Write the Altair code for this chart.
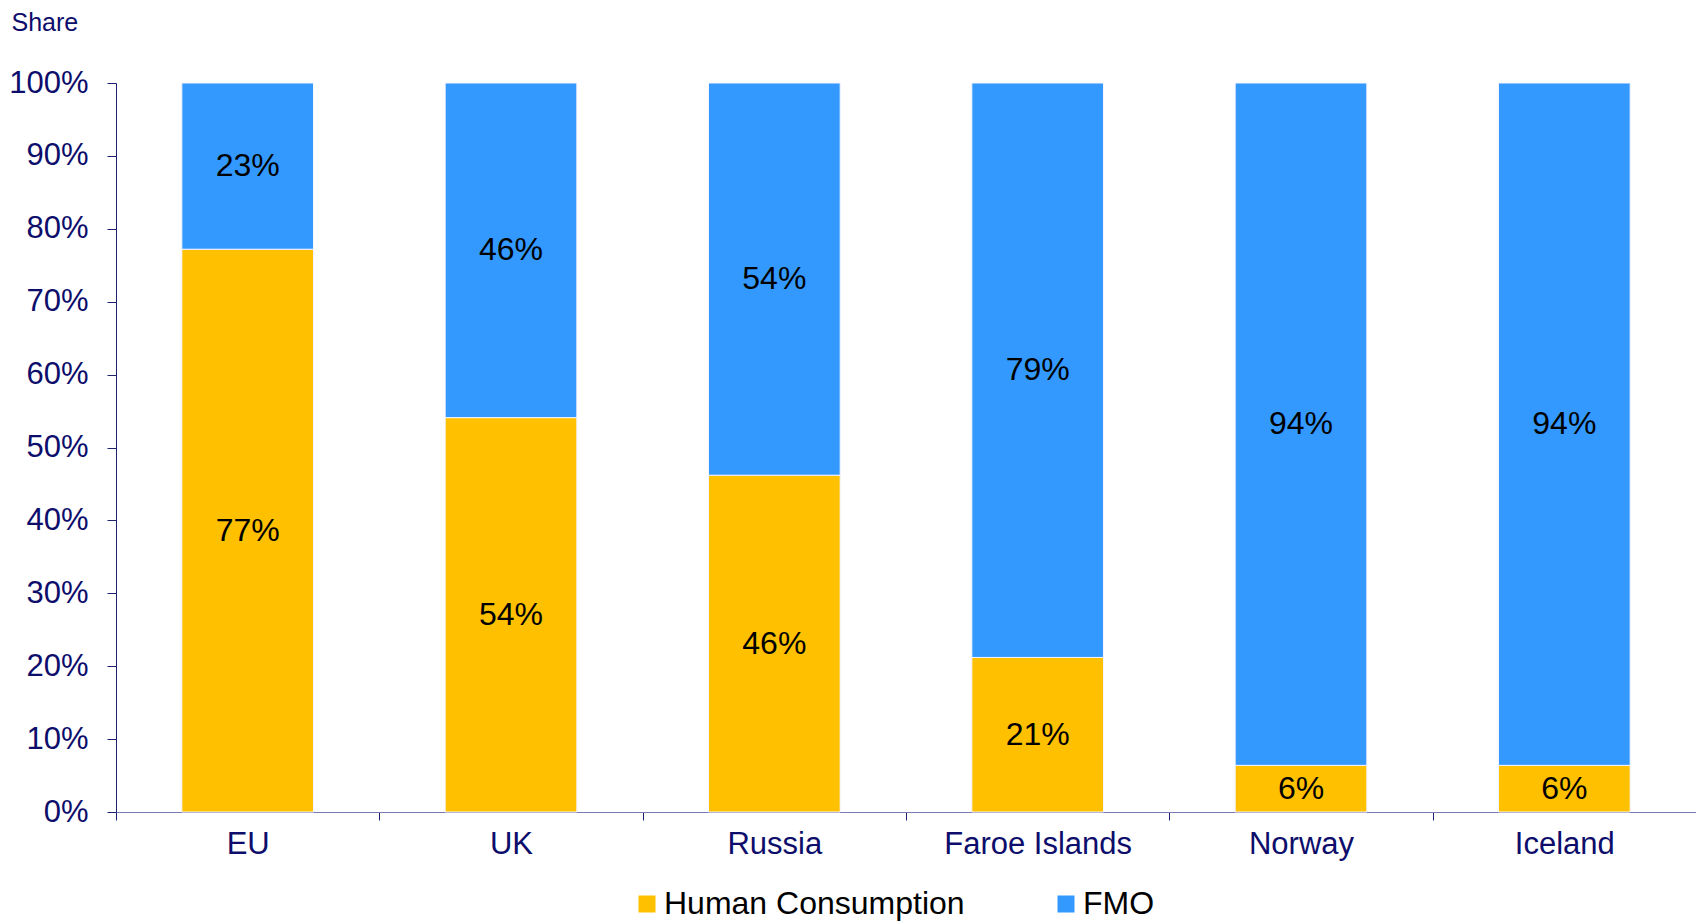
import altair as alt
import pandas as pd

countries = ["EU", "UK", "Russia", "Faroe Islands", "Norway", "Iceland"]
human = [0.772, 0.541, 0.462, 0.212, 0.064, 0.064]
fmo = [0.228, 0.459, 0.538, 0.788, 0.936, 0.936]
series = ["Human Consumption", "FMO"]
colors = ["#FFC000", "#3399FF"]
y_ticks = [0, 0.1, 0.2, 0.3, 0.4, 0.5, 0.6, 0.7, 0.8, 0.9, 1.0]

rows = []
for i, c in enumerate(countries):
    rows.append({"country": c, "series": series[0], "order": 0, "value": human[i]})
    rows.append({"country": c, "series": series[1], "order": 1, "value": fmo[i]})
df = pd.DataFrame(rows)

NAVY = "#0d0d6b"
FONT = "Liberation Sans"

base = alt.Chart(df).transform_stack(
    stack="value", groupby=["country"], sort=[alt.SortField("order")], as_=["v0", "v1"]
).transform_calculate(mid="(datum.v0 + datum.v1) / 2")

x_enc = alt.X(
    "country:N", sort=countries, title=None,
    scale=alt.Scale(paddingInner=0, paddingOuter=0),
    axis=alt.Axis(
        labelAngle=0, labelFontSize=31, labelColor=NAVY, labelFont=FONT,
        labelPadding=9, labelLimit=1000, tickBand="extent", tickSize=8,
        tickColor="#202070", domainColor="#7a7ab0", domainWidth=1.2, grid=False,
    ),
)

bars = base.mark_bar(stroke="#f4f4ff", strokeWidth=1, width=alt.RelativeBandSize(0.5)).encode(
    x=x_enc,
    y=alt.Y(
        "v0:Q", title="Share",
        scale=alt.Scale(domain=[0, 1], nice=False),
        axis=alt.Axis(
            values=y_ticks, format=".0%", labelFontSize=31, labelColor=NAVY,
            labelFont=FONT, labelPadding=19, tickSize=9, tickColor="#202070",
            domainColor="#202070", grid=False,
            titleAngle=0, titleAlign="left", titleBaseline="alphabetic",
            titleX=-105, titleY=-53, titleFontSize=25, titleFont=FONT,
            titleFontWeight="normal", titleColor=NAVY,
        ),
    ),
    y2="v1:Q",
    color=alt.Color(
        "series:N", sort=series,
        scale=alt.Scale(domain=series, range=colors),
        legend=alt.Legend(
            title=None, orient="none", legendX=515, legendY=805,
            direction="horizontal", symbolType="square", symbolSize=289,
            symbolStrokeWidth=0, labelFontSize=32, labelFont=FONT,
            labelColor="black", labelLimit=1000, columnPadding=85, labelOffset=1,
        ),
    ),
    order=alt.Order("order:Q"),
)

labels = base.mark_text(fontSize=32, font=FONT, color="black", baseline="middle").encode(
    x=alt.X("country:N", sort=countries),
    y=alt.Y("mid:Q"),
    text=alt.Text("value:Q", format=".0%"),
)

chart = alt.layer(bars, labels).properties(
    width=1580, height=729,
    autosize=alt.AutoSizeParams(type="none"),
    padding={"left": 108, "top": 75, "right": 0, "bottom": 114},
).configure_view(stroke=None)

chart.save("out.html", embed_options={"renderer": "svg", "actions": False})
